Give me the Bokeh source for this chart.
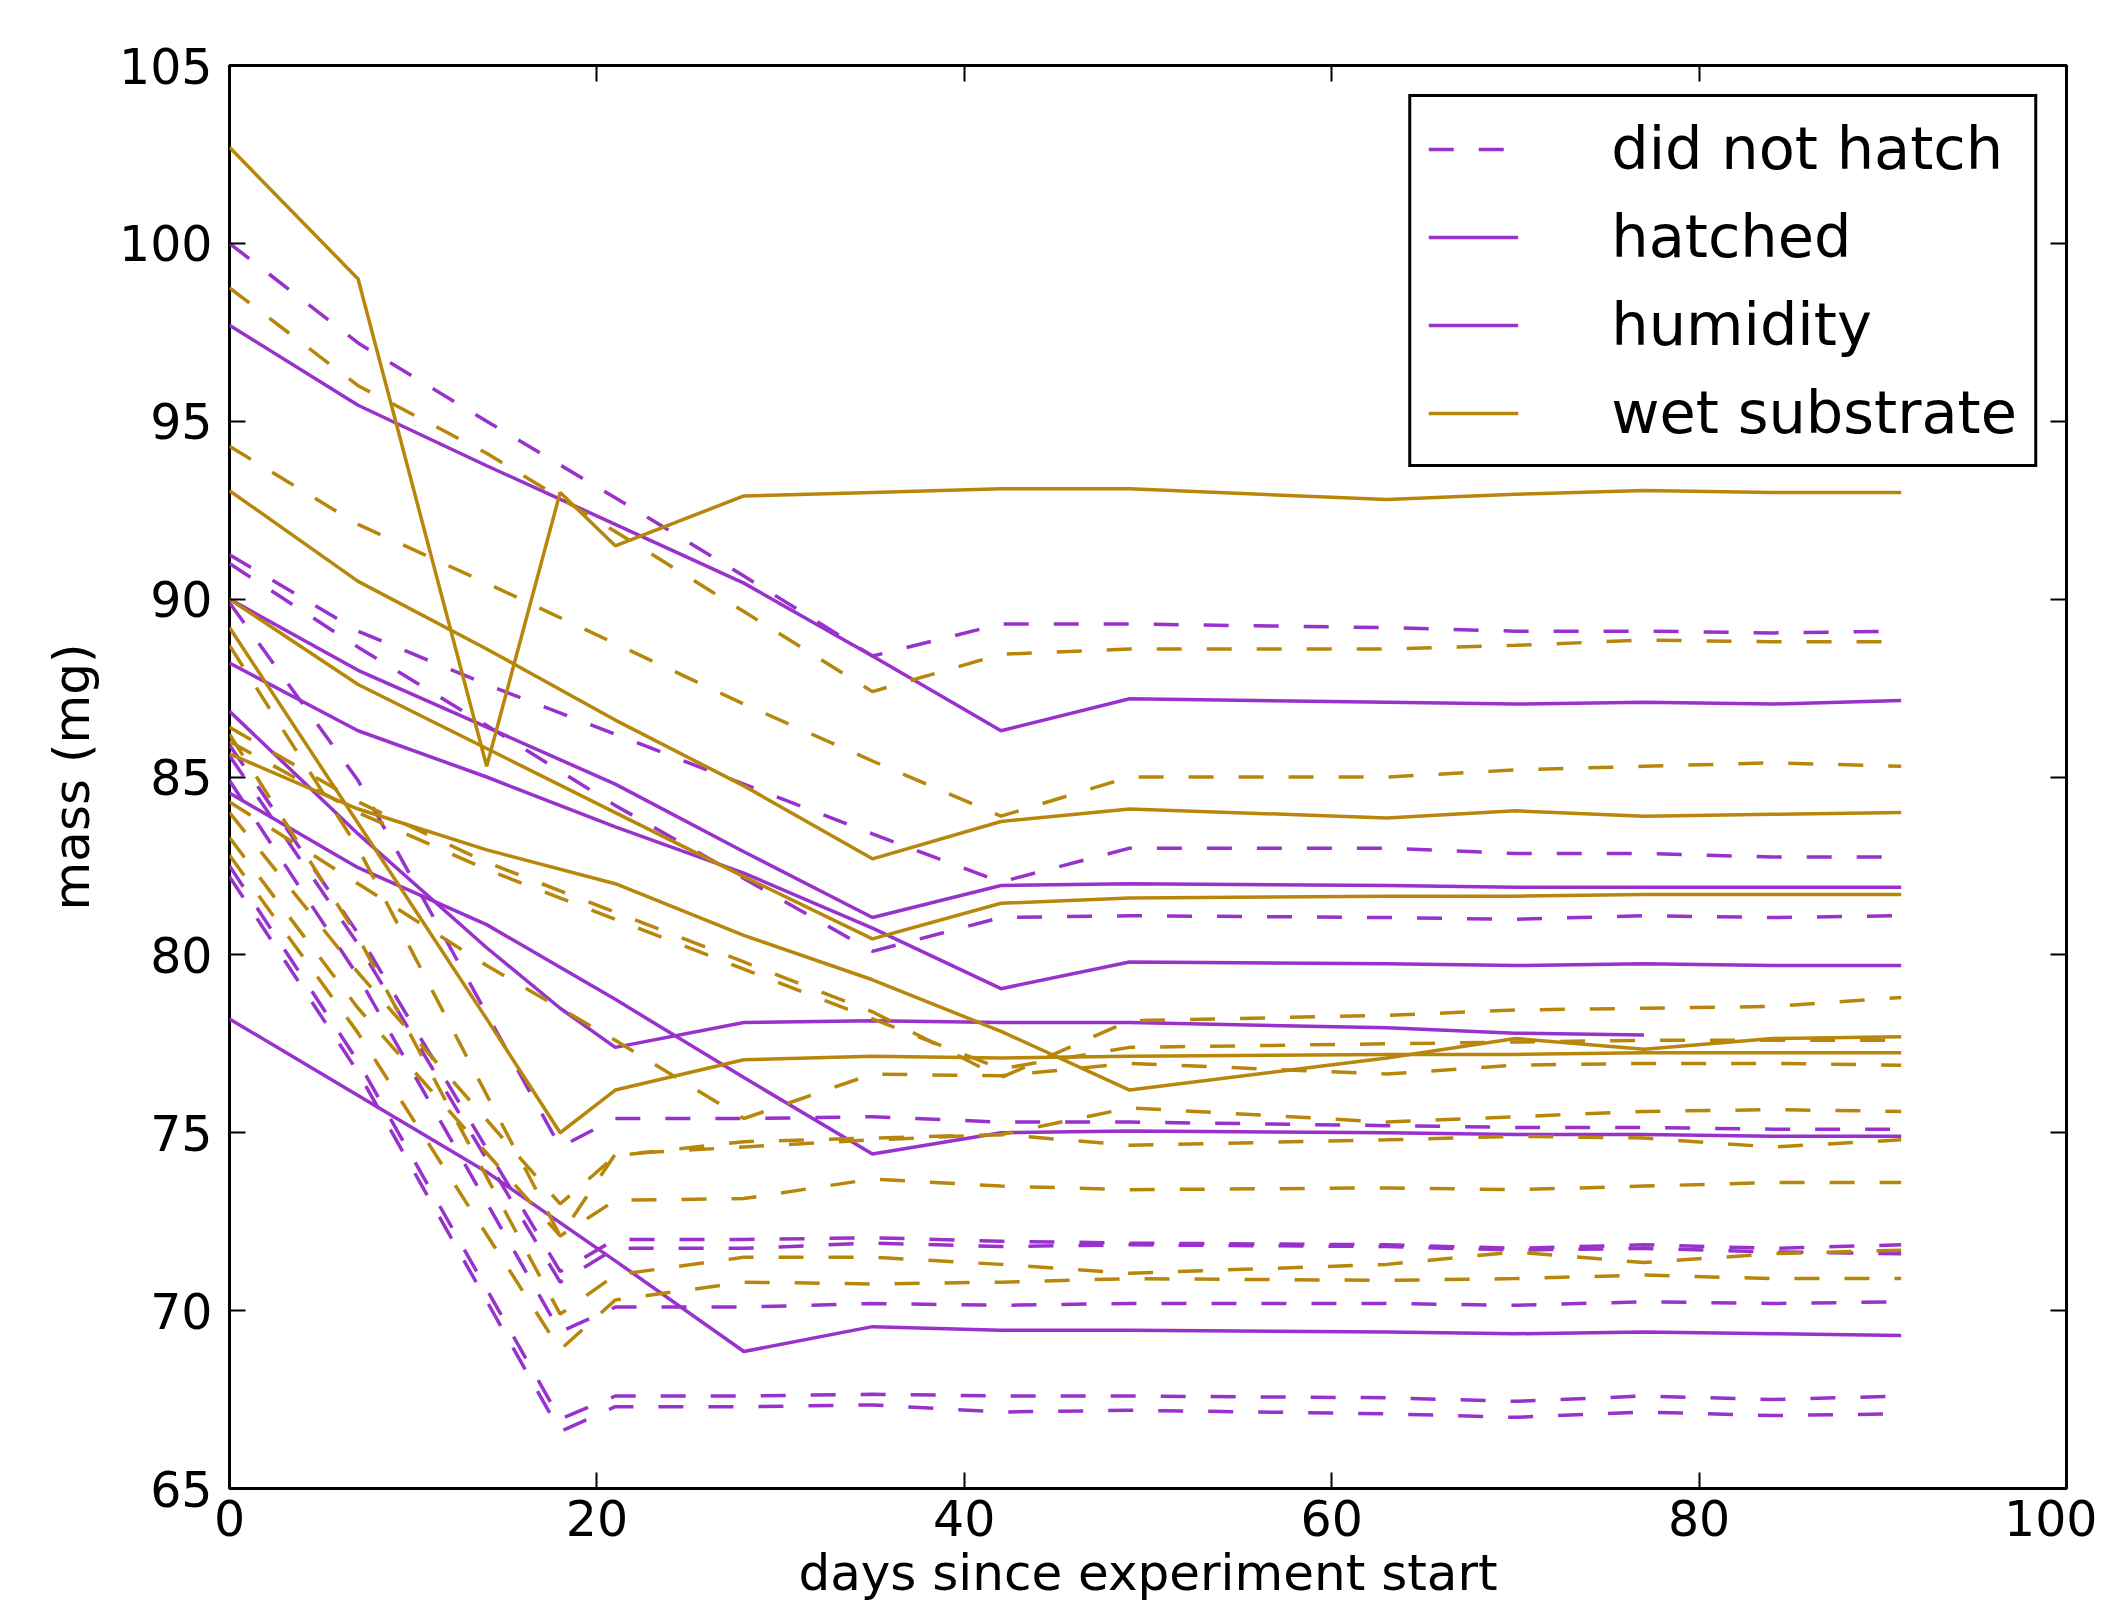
from bokeh.plotting import figure
from bokeh.models import Range1d, LinearAxis, Legend, LegendItem, FixedTicker
from bokeh.embed import file_html
from bokeh.resources import INLINE

PURPLE = "#9932CC"   # humidity
GOLD = "#B8860B"     # wet substrate

# sampling days (days since experiment start)
days_weekly = [0, 7, 14, 21, 28, 35, 42, 49, 63, 70, 77, 84, 91]
days_steep = [0, 7, 18, 21, 28, 35, 42, 49, 63, 70, 77, 84, 91]
days_full = [0, 7, 14, 18, 21, 28, 35, 42, 49, 63, 70, 77, 84, 91]
days_short = [0, 7, 14, 18, 21, 28, 35, 42, 49, 63, 70, 77]

# humidity, did not hatch (purple dashed) - mass in mg
hum_nohatch_1 = [100.0, 97.2, 95.0, 92.85, 90.65, 88.4, 89.3, 89.3, 89.2, 89.1, 89.1, 89.05, 89.1]
hum_nohatch_2 = [91.25, 89.1, 87.6, 86.2, 84.8, 83.4, 82.05, 83.0, 83.0, 82.85, 82.85, 82.75, 82.75]
hum_nohatch_3 = [91.0, 88.65, 86.45, 84.2, 82.15, 80.1, 81.05, 81.1, 81.05, 81.0, 81.1, 81.05, 81.1]
hum_nohatch_4 = [89.9, 84.9, 74.6, 75.4, 75.4, 75.45, 75.3, 75.3, 75.2, 75.15, 75.15, 75.1, 75.1]
hum_nohatch_5 = [85.9, 80.6, 71.1, 72.0, 72.0, 72.05, 71.95, 71.9, 71.85, 71.75, 71.85, 71.75, 71.85]
hum_nohatch_6 = [85.6, 80.3, 70.8, 71.75, 71.75, 71.9, 71.8, 71.85, 71.8, 71.7, 71.75, 71.65, 71.6]
hum_nohatch_7 = [84.9, 79.4, 69.4, 70.1, 70.1, 70.2, 70.15, 70.2, 70.2, 70.15, 70.25, 70.2, 70.25]
hum_nohatch_8 = [82.5, 77.0, 66.95, 67.6, 67.6, 67.65, 67.6, 67.6, 67.55, 67.45, 67.6, 67.5, 67.6]
hum_nohatch_9 = [82.2, 76.7, 66.6, 67.3, 67.3, 67.35, 67.15, 67.2, 67.1, 67.0, 67.15, 67.05, 67.1]

# humidity, hatched (purple solid)
hum_hatch_1 = [97.7, 95.45, 93.75, 92.1, 90.45, 88.4, 86.3, 87.2, 87.1, 87.05, 87.1, 87.05, 87.15]
hum_hatch_2 = [90.0, 88.0, 86.4, 84.8, 82.9, 81.05, 81.95, 82.0, 81.95, 81.9, 81.9, 81.9, 81.9]
hum_hatch_3 = [88.2, 86.3, 85.0, 83.6, 82.3, 80.75, 79.05, 79.8, 79.75, 79.7, 79.75, 79.7, 79.7]
hum_hatch_4 = [86.85, 83.4, 80.2, 78.5, 77.4, 78.1, 78.15, 78.1, 78.1, 77.95, 77.8, 77.75]
hum_hatch_5 = [84.55, 82.45, 80.85, 78.75, 76.55, 74.4, 75.0, 75.05, 75.0, 74.95, 74.95, 74.9, 74.9]
hum_hatch_6 = [78.2, 76.05, 73.9, 71.4, 68.85, 69.55, 69.45, 69.45, 69.4, 69.35, 69.4, 69.35, 69.3]

# wet substrate, did not hatch (gold dashed)
wet_nohatch_1 = [98.75, 96.0, 94.1, 91.9, 89.65, 87.4, 88.45, 88.6, 88.6, 88.7, 88.85, 88.8, 88.8]
wet_nohatch_2 = [94.3, 92.1, 90.45, 88.75, 87.05, 85.45, 83.9, 85.0, 85.0, 85.2, 85.3, 85.4, 85.3]
wet_nohatch_3 = [86.4, 84.3, 82.6, 81.2, 79.8, 78.4, 76.55, 78.15, 78.3, 78.45, 78.5, 78.55, 78.8]
wet_nohatch_4 = [86.0, 84.0, 82.4, 81.0, 79.6, 78.2, 76.8, 77.4, 77.5, 77.55, 77.6, 77.6, 77.6]
wet_nohatch_5 = [84.3, 82.0, 79.7, 77.6, 75.4, 76.65, 76.6, 76.95, 76.65, 76.9, 76.95, 76.95, 76.9]
wet_nohatch_6 = [88.7, 83.0, 72.1, 74.4, 74.6, 74.8, 74.95, 75.7, 75.3, 75.45, 75.6, 75.65, 75.6]
wet_nohatch_7 = [84.0, 79.5, 73.0, 74.35, 74.75, 74.85, 74.95, 74.65, 74.8, 74.9, 74.85, 74.6, 74.8]
wet_nohatch_8 = [83.3, 78.5, 72.1, 73.1, 73.15, 73.7, 73.5, 73.4, 73.45, 73.4, 73.5, 73.6, 73.6]
wet_nohatch_9 = [86.2, 80.5, 69.9, 71.0, 71.5, 71.5, 71.3, 71.05, 71.3, 71.65, 71.35, 71.6, 71.7]
wet_nohatch_10 = [82.8, 77.8, 68.9, 70.3, 70.8, 70.75, 70.8, 70.9, 70.85, 70.9, 71.0, 70.9, 70.9]

# wet substrate, hatched (gold solid)
wet_hatch_1 = [102.7, 99.0, 85.3, 93.0, 91.5, 92.9, 93.0, 93.1, 93.1, 92.8, 92.95, 93.05, 93.0, 93.0]
wet_hatch_2 = [93.05, 90.5, 88.6, 86.6, 84.75, 82.7, 83.75, 84.1, 83.85, 84.05, 83.9, 83.95, 84.0]
wet_hatch_3 = [90.0, 87.6, 85.8, 84.0, 82.2, 80.45, 81.45, 81.6, 81.65, 81.65, 81.7, 81.7, 81.7]
wet_hatch_4 = [89.2, 83.7, 78.2, 75.0, 76.2, 77.05, 77.15, 77.1, 77.15, 77.2, 77.2, 77.25, 77.25, 77.25]
wet_hatch_5 = [85.65, 84.1, 82.95, 82.0, 80.55, 79.3, 77.85, 76.2, 77.1, 77.65, 77.35, 77.65, 77.7]

series = [
    (days_weekly, hum_nohatch_1, PURPLE, "dashed"),
    (days_weekly, hum_nohatch_2, PURPLE, "dashed"),
    (days_weekly, hum_nohatch_3, PURPLE, "dashed"),
    (days_steep, hum_nohatch_4, PURPLE, "dashed"),
    (days_steep, hum_nohatch_5, PURPLE, "dashed"),
    (days_steep, hum_nohatch_6, PURPLE, "dashed"),
    (days_steep, hum_nohatch_7, PURPLE, "dashed"),
    (days_steep, hum_nohatch_8, PURPLE, "dashed"),
    (days_steep, hum_nohatch_9, PURPLE, "dashed"),
    (days_weekly, hum_hatch_1, PURPLE, "solid"),
    (days_weekly, hum_hatch_2, PURPLE, "solid"),
    (days_weekly, hum_hatch_3, PURPLE, "solid"),
    (days_short, hum_hatch_4, PURPLE, "solid"),
    (days_weekly, hum_hatch_5, PURPLE, "solid"),
    (days_weekly, hum_hatch_6, PURPLE, "solid"),
    (days_weekly, wet_nohatch_1, GOLD, "dashed"),
    (days_weekly, wet_nohatch_2, GOLD, "dashed"),
    (days_weekly, wet_nohatch_3, GOLD, "dashed"),
    (days_weekly, wet_nohatch_4, GOLD, "dashed"),
    (days_weekly, wet_nohatch_5, GOLD, "dashed"),
    (days_steep, wet_nohatch_6, GOLD, "dashed"),
    (days_steep, wet_nohatch_7, GOLD, "dashed"),
    (days_steep, wet_nohatch_8, GOLD, "dashed"),
    (days_steep, wet_nohatch_9, GOLD, "dashed"),
    (days_steep, wet_nohatch_10, GOLD, "dashed"),
    (days_full, wet_hatch_1, GOLD, "solid"),
    (days_weekly, wet_hatch_2, GOLD, "solid"),
    (days_weekly, wet_hatch_3, GOLD, "solid"),
    (days_full, wet_hatch_4, GOLD, "solid"),
    (days_weekly, wet_hatch_5, GOLD, "solid"),
]

x_ticks = [0, 20, 40, 60, 80, 100]
y_ticks = [65, 70, 75, 80, 85, 90, 95, 100, 105]
legend_labels = ["did not hatch", "hatched", "humidity", "wet substrate"]

FONT = "DejaVu Sans"
LW = 3.5
DASH = "25 25"

p = figure(width=2097, height=1604, output_backend="svg", toolbar_location=None,
           x_range=Range1d(0, 100), y_range=Range1d(65, 105),
           min_border_left=229, min_border_right=31, min_border_top=65, min_border_bottom=114)
p.background_fill_color = "white"
p.border_fill_color = "white"
p.outline_line_color = "black"
p.outline_line_width = 3
p.outline_line_alpha = 1.0
p.grid.grid_line_color = None

renderers = {}
for days, mass, color, style in series:
    r = p.line(days, mass, line_color=color, line_width=LW,
               line_dash=(DASH if style == "dashed" else "solid"))
    renderers.setdefault((color, style), r)

def style_axis(ax, show_labels):
    ax.axis_line_color = None
    ax.major_tick_in = 16
    ax.major_tick_out = 0
    ax.major_tick_line_color = "black"
    ax.major_tick_line_width = 2
    ax.minor_tick_line_color = None
    ax.major_label_text_font = FONT
    ax.axis_label_text_font = FONT
    ax.axis_label_text_font_style = "normal"
    ax.axis_label_text_color = "black"
    if show_labels:
        ax.major_label_text_color = "black"
        ax.major_label_text_font_size = "49px"
        ax.axis_label_text_font_size = "50px"
    else:
        ax.major_label_text_color = None
        ax.major_label_text_font_size = "10px"
        ax.major_label_standoff = 0

xa = p.xaxis[0]
ya = p.yaxis[0]
xa.ticker = FixedTicker(ticks=x_ticks)
ya.ticker = FixedTicker(ticks=y_ticks)
style_axis(xa, True)
style_axis(ya, True)
xa.axis_label = "days since experiment start"
ya.axis_label = "mass (mg)"
xa.major_label_standoff = 11
xa.axis_label_standoff = 5
ya.major_label_standoff = 17
ya.axis_label_standoff = 15

top_ax = LinearAxis(ticker=FixedTicker(ticks=x_ticks))
right_ax = LinearAxis(ticker=FixedTicker(ticks=y_ticks))
style_axis(top_ax, False)
style_axis(right_ax, False)
p.add_layout(top_ax, "above")
p.add_layout(right_ax, "right")

items = [
    LegendItem(label=legend_labels[0], renderers=[renderers[(PURPLE, "dashed")]]),
    LegendItem(label=legend_labels[1], renderers=[renderers[(PURPLE, "solid")]]),
    LegendItem(label=legend_labels[2], renderers=[renderers[(PURPLE, "solid")]]),
    LegendItem(label=legend_labels[3], renderers=[renderers[(GOLD, "solid")]]),
]
legend = Legend(items=items, location="top_right")
legend.margin = 29
legend.padding = 17
legend.spacing = 19
legend.glyph_width = 90
legend.glyph_height = 60
legend.label_height = 60
legend.label_standoff = 93
legend.label_text_font = FONT
legend.label_text_font_size = "59px"
legend.label_text_color = "black"
legend.border_line_color = "black"
legend.border_line_width = 3
legend.border_line_alpha = 1.0
legend.background_fill_color = "white"
legend.background_fill_alpha = 1.0
p.add_layout(legend)

open("out.html", "w").write(file_html(p, INLINE))
